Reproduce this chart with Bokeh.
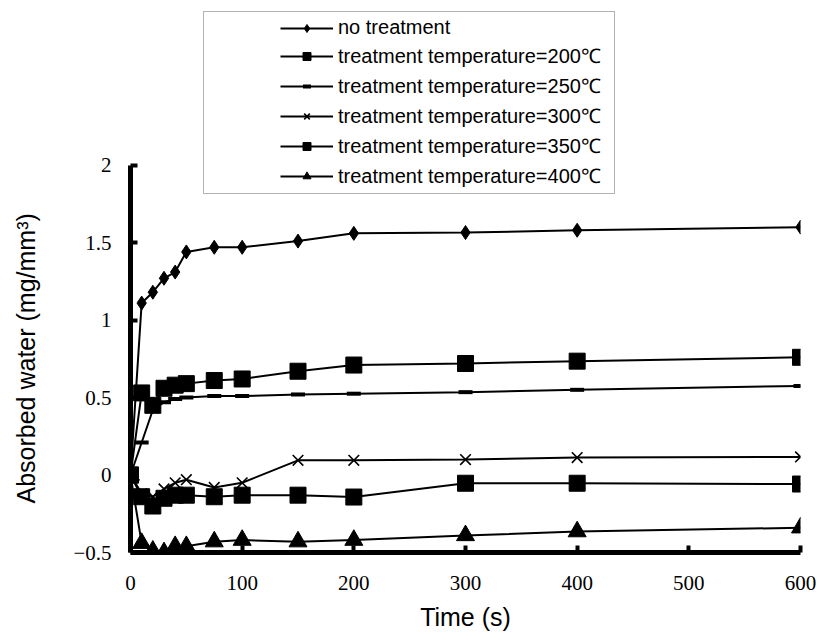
from bokeh.plotting import figure
from bokeh.models import FixedTicker, Legend, LegendItem, Title
from bokeh.embed import file_html
from bokeh.resources import INLINE

time_s = [0, 10, 20, 30, 40, 50, 75, 100, 150, 200, 300, 400, 600]
no_treatment = [0, 1.11, 1.18, 1.27, 1.31, 1.44, 1.47, 1.47, 1.51, 1.56, 1.565, 1.58, 1.60]
temp_200 = [0, 0.53, 0.45, 0.56, 0.58, 0.59, 0.61, 0.62, 0.67, 0.71, 0.72, 0.735, 0.76]
temp_250 = [0, 0.21, 0.42, 0.47, 0.49, 0.50, 0.51, 0.51, 0.52, 0.525, 0.535, 0.55, 0.575]
temp_300 = [0, -0.12, -0.14, -0.09, -0.05, -0.03, -0.08, -0.05, 0.095, 0.095, 0.10, 0.113, 0.117]
temp_350 = [0, -0.14, -0.20, -0.15, -0.13, -0.13, -0.14, -0.13, -0.13, -0.142, -0.053, -0.053, -0.058]
temp_400 = [0, -0.44, -0.49, -0.50, -0.46, -0.46, -0.43, -0.42, -0.43, -0.42, -0.39, -0.365, -0.34]

labels = ["no treatment",
          "treatment temperature=200\u2103",
          "treatment temperature=250\u2103",
          "treatment temperature=300\u2103",
          "treatment temperature=350\u2103",
          "treatment temperature=400\u2103"]
series = [no_treatment, temp_200, temp_250, temp_300, temp_350, temp_400]
markers = ["diamond", "square", "dash", "x", "square", "triangle"]
sizes = [14, 16, 14, 15, 16, 18]

x_ticks = [0, 100, 200, 300, 400, 500, 600]
y_ticks = [-0.5, 0, 0.5, 1, 1.5, 2]

W, H = 820, 640
p = figure(width=W, height=H, x_range=(0, 600), y_range=(-0.5, 3.05),
           output_backend="svg", toolbar_location=None,
           min_border_left=130, min_border_right=20,
           min_border_top=2, min_border_bottom=88)
p.outline_line_color = None
p.xgrid.visible = False
p.ygrid.visible = False
p.background_fill_color = "white"

items = []
for ys, lab, mk, sz in zip(series, labels, markers, sizes):
    r1 = p.line(time_s, ys, line_color="black", line_width=2)
    lw = 4 if mk == "dash" else (1.6 if mk == "x" else 1)
    r2 = p.scatter(time_s, ys, marker=mk, size=sz, fill_color="black",
                   line_color="black", line_width=lw)
    items.append(LegendItem(label=lab, renderers=[r1, r2]))

legend = Legend(items=items, location=(73, 358),
                title=" ", title_location="left",
                title_text_font_size="12px", title_standoff=58,
                padding=4, spacing=3, glyph_width=53, glyph_height=20,
                label_height=20, label_standoff=5, label_width=272,
                label_text_font="Liberation Sans", label_text_font_size="20px",
                label_text_color="black",
                border_line_color="#666666", border_line_width=1,
                background_fill_color="white", background_fill_alpha=1)
p.add_layout(legend, "center")

for ax in (p.xaxis[0], p.yaxis[0]):
    ax.axis_line_width = 5
    ax.axis_line_color = "black"
    ax.major_tick_in = 7
    ax.major_tick_out = 0
    ax.major_tick_line_width = 4
    ax.major_tick_line_color = "black"
    ax.minor_tick_line_color = None
    ax.major_label_text_font = "Liberation Serif"
    ax.major_label_text_font_size = "21px"
    ax.major_label_text_color = "black"
    ax.axis_label_text_font = "Liberation Sans"
    ax.axis_label_text_font_size = "25px"
    ax.axis_label_text_font_style = "normal"
    ax.axis_label_text_color = "black"

p.yaxis.bounds = (-0.5, 2)
p.xaxis.ticker = FixedTicker(ticks=x_ticks)
p.yaxis.ticker = FixedTicker(ticks=y_ticks)
p.yaxis.major_label_overrides = {-0.5: "\u22120.5"}
p.xaxis.axis_label = "Time (s)"
p.xaxis.major_label_standoff = 23
p.yaxis.major_label_standoff = 19
p.xaxis.axis_label_standoff = 10

# empty spacer panel between the y tick labels and the y title
spacer = Title(text=" ", text_font_size="10px", standoff=16,
               text_color="white")
p.add_layout(spacer, "left")

ytitle = Title(text="Absorbed water (mg/mm\u00b3)", align="left", offset=49,
               vertical_align="top", standoff=0,
               text_font="Liberation Sans", text_font_size="25px",
               text_font_style="normal", text_color="black")
p.add_layout(ytitle, "left")

open("out.html", "w").write(file_html(p, INLINE))
